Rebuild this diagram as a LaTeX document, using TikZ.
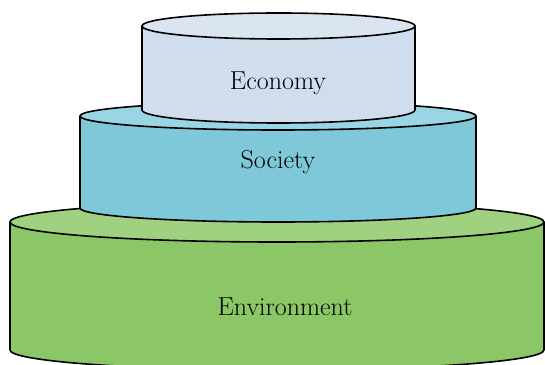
\documentclass[tikz,border=0pt]{standalone}
\usepackage{fontspec}
\usepackage{xcolor}
\usepackage{tikz}
\definecolor{envSideC}{HTML}{8BC766}
\definecolor{envTopC}{HTML}{9FD181}
\definecolor{socSideC}{HTML}{7EC8DA}
\definecolor{socTopC}{HTML}{99D5E3}
\definecolor{ecoSideC}{HTML}{D0DDED}
\definecolor{ecoTopC}{HTML}{DAE5F1}
\tikzset{
  layer/.style={draw=black,line width=1.6pt,line join=round},
  envSide/.style={layer,fill=envSideC},
  envTop/.style={layer,fill=envTopC},
  socSide/.style={layer,fill=socSideC},
  socTop/.style={layer,fill=socTopC},
  ecoSide/.style={layer,fill=ecoSideC},
  ecoTop/.style={layer,fill=ecoTopC},
  lTitle/.style={font=\fontsize{26}{30}\selectfont,inner sep=0pt},
}
\begin{document}
\begin{tikzpicture}[x=1pt,y=1pt]
\useasboundingbox (0,0) rectangle (545,364);
\clip (0,0) rectangle (545,364);
% environment
\draw[envSide] (10,142) -- (10,14) arc[start angle=180,end angle=360,x radius=267pt,y radius=20pt] -- (544,142) -- cycle;
\draw[envTop] (277,142) ellipse[x radius=267pt,y radius=20pt];
% society
\draw[socSide] (80,248) -- (80,156) arc[start angle=180,end angle=360,x radius=198pt,y radius=14pt] -- (476,248) -- cycle;
\draw[socTop] (278,248) ellipse[x radius=198pt,y radius=14pt];
% economy
\draw[ecoSide] (142,338) -- (142,254) arc[start angle=180,end angle=360,x radius=136.5pt,y radius=13pt] -- (415,338) -- cycle;
\draw[ecoTop] (278.5,338) ellipse[x radius=136.5pt,y radius=13pt];
\node[lTitle] (eco) at (278,281) {Economy};
\node[lTitle] (soc) at (278,202) {Society};
\node[lTitle] (env) at (285,57)  {Environment};
\end{tikzpicture}
\end{document}
